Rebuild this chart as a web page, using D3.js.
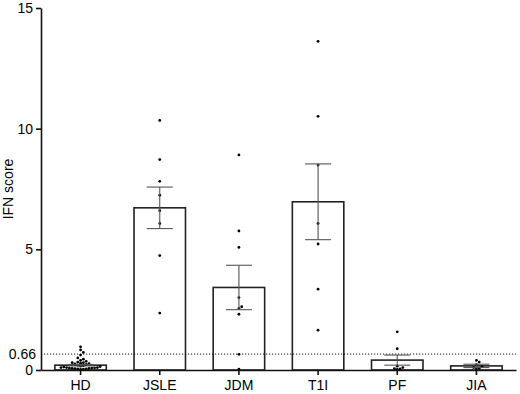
<!DOCTYPE html>
<html>
<head>
<meta charset="utf-8">
<script src="https://cdn.jsdelivr.net/npm/d3@7/dist/d3.min.js"></script>
<style>
  body { margin: 0; background: #fff; }
  svg { font-family: "Liberation Sans", Arial, sans-serif; }
</style>
</head>
<body>
<svg id="chart" width="520" height="394"></svg>
<script>
// groups and their summary values (mean, sem)
var categories = ["HD", "JSLE", "JDM", "T1I", "PF", "JIA"];
var means = [0.2, 6.72, 3.42, 6.97, 0.41, 0.17];
var sems = [0.03, 0.86, 0.92, 1.57, 0.21, 0.07];
var yTicks = [0, 5, 10, 15];
var cutoff = 0.66;

// individual scores per group
var hdScores = [0.96, 0.83, 0.73, 0.62, 0.5, 0.45, 0.4, 0.36, 0.33, 0.3, 0.3, 0.28,
	0.26, 0.25, 0.23, 0.2, 0.18, 0.16, 0.14, 0.12, 0.1, 0.1, 0.1,
	0.09, 0.08, 0.08, 0.07, 0.07, 0.06, 0.05, 0.05, 0.04, 0.03];
var jsleScores = [10.34, 8.72, 7.82, 7.24, 6.6, 6.07, 4.74, 2.36];
var jdmScores = [8.91, 5.76, 5.08, 3.0, 2.62, 2.55, 2.31, 0.65, 0.04];
var t1iScores = [13.62, 10.51, 8.49, 6.07, 5.22, 3.35, 1.65];
var pfScores = [1.58, 0.88, 0.16, 0.1, 0.06, 0.05, 0.02];
var jiaScores = [0.4, 0.33, 0.22, 0.14, 0.1, 0.07, 0.05];
var scores = [hdScores, jsleScores, jdmScores, t1iScores, pfScores, jiaScores];

var svg = d3.select("#chart");
var plotLeft = 41, plotRight = 516, plotTop = 8, plotBottom = 370;

var x = d3.scaleBand().domain(categories).range([plotLeft, plotRight]);
var y = d3.scaleLinear().domain([0, 15]).range([plotBottom, plotTop]);
var barW = x.bandwidth() * 0.65;

var groups = categories.map(function(c, i) {
	return { name: c, mean: means[i], sem: sems[i], values: scores[i] };
});

// bars
svg.append("g").selectAll("rect")
	.data(groups).enter().append("rect")
	.attr("x", function(d) { return x(d.name) + (x.bandwidth() - barW) / 2; })
	.attr("y", function(d) { return y(d.mean); })
	.attr("width", barW)
	.attr("height", function(d) { return y(0) - y(d.mean); })
	.attr("fill", "#fff")
	.attr("stroke", "#222")
	.attr("stroke-width", 1.6);

// cutoff line
svg.append("line")
	.attr("x1", plotLeft).attr("x2", plotRight)
	.attr("y1", y(cutoff)).attr("y2", y(cutoff))
	.attr("stroke", "#111")
	.attr("stroke-width", 1)
	.attr("stroke-dasharray", "1.2,1.8");

// simple beeswarm so close values spread sideways
var r = 1.4, step = 2.8;
function swarm(d) {
	var cx = x(d.name) + x.bandwidth() / 2;
	var placed = [];
	d.values.slice().sort(d3.ascending).forEach(function(v) {
		var py = y(v), k = 0, px;
		while (true) {
			var off = (k % 2 ? 1 : -1) * Math.ceil(k / 2) * step;
			px = cx + off;
			var hit = placed.some(function(p) {
				return Math.hypot(p.x - px, p.y - py) < step;
			});
			if (!hit) break;
			k++;
		}
		placed.push({ x: px, y: py });
	});
	return placed;
}

svg.append("g").selectAll("g")
	.data(groups).enter().append("g")
	.selectAll("circle")
	.data(function(d) { return swarm(d); })
	.enter().append("circle")
	.attr("cx", function(d) { return d.x; })
	.attr("cy", function(d) { return d.y; })
	.attr("r", r)
	.attr("fill", "#000");

// error bars
var capW = 26;
var err = svg.append("g").attr("stroke", "#555").attr("stroke-width", 1.1)
	.selectAll("g").data(groups).enter().append("g")
	.attr("transform", function(d) { return "translate(" + (x(d.name) + x.bandwidth() / 2) + ",0)"; });
err.append("line")
	.attr("y1", function(d) { return y(d.mean + d.sem); })
	.attr("y2", function(d) { return y(d.mean - d.sem); });
err.append("line")
	.attr("x1", -capW / 2).attr("x2", capW / 2)
	.attr("y1", function(d) { return y(d.mean + d.sem); })
	.attr("y2", function(d) { return y(d.mean + d.sem); });
err.append("line")
	.attr("x1", -capW / 2).attr("x2", capW / 2)
	.attr("y1", function(d) { return y(d.mean - d.sem); })
	.attr("y2", function(d) { return y(d.mean - d.sem); });

// axes
var yAxis = svg.append("g")
	.attr("transform", "translate(" + plotLeft + ",0)")
	.call(d3.axisLeft(y).tickValues(yTicks).tickSize(5).tickSizeOuter(0).tickPadding(3));
yAxis.append("text")
	.attr("x", -5).attr("y", y(cutoff)).attr("dy", "0.35em")
	.attr("text-anchor", "end").attr("fill", "#000")
	.text(cutoff);

var xAxis = svg.append("g")
	.attr("transform", "translate(0," + plotBottom + ")")
	.call(d3.axisBottom(x).tickSize(5).tickSizeOuter(0).tickPadding(5));

svg.selectAll(".domain, .tick line").attr("stroke", "#111").attr("stroke-width", 1.6);
svg.selectAll(".tick text").attr("fill", "#000");
svg.selectAll("g text").style("font-size", "14px").style("font-family", "'Liberation Sans', Arial, sans-serif");

svg.append("text")
	.attr("transform", "translate(13," + ((plotTop + plotBottom) / 2) + ") rotate(-90)")
	.attr("text-anchor", "middle")
	.style("font-size", "14px")
	.text("IFN score");
</script>
</body>
</html>
